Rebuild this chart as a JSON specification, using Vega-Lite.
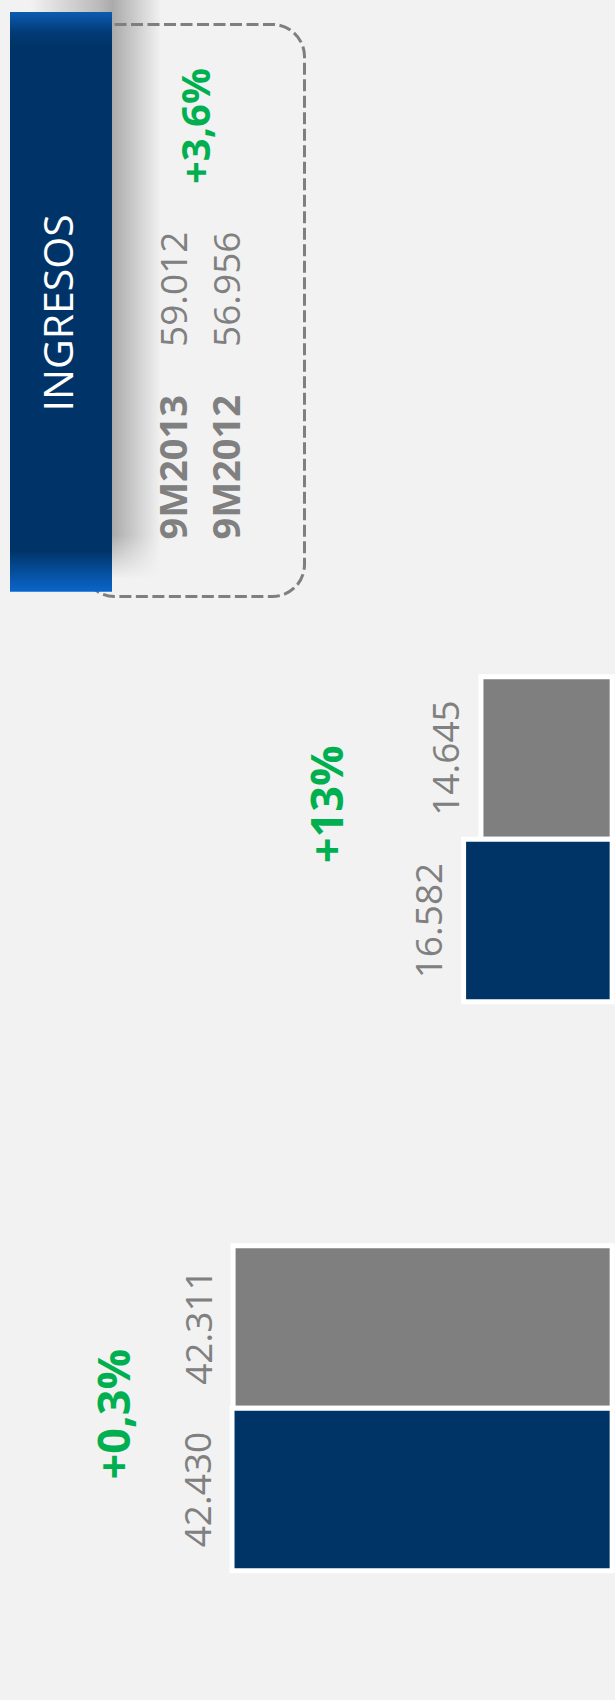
{
  "$schema": "https://vega.github.io/schema/vega-lite/v6.json",
  "width": 615,
  "height": 1700,
  "autosize": {"type": "fit", "contains": "padding"},
  "padding": 0,
  "background": "#f2f2f2",
  "config": {
    "view": {"stroke": null},
    "axis": {"disable": true},
    "locale": {"number": {"decimal": ",", "thousands": ".", "grouping": [3], "currency": ["", " €"]}}
  },
  "datasets": {
    "panel": [{"part": "INGRESOS"}],
    "totales": [
      {"periodo": "9M2013", "ingresos": 59012, "variacion": "+3,6%"},
      {"periodo": "9M2012", "ingresos": 56956}
    ],
    "segmentos": [
      {"segmento": "A", "periodo": "9M2012", "ingresos": 14645},
      {"segmento": "A", "periodo": "9M2013", "ingresos": 16582, "variacion": "+13%"},
      {"segmento": "B", "periodo": "9M2012", "ingresos": 42311},
      {"segmento": "B", "periodo": "9M2013", "ingresos": 42430, "variacion": "+0,3%"}
    ]
  },
  "resolve": {"scale": {"x": "independent", "y": "independent", "color": "independent"}},
  "layer": [
    {
      "data": {"name": "panel"},
      "mark": {"type": "rect", "fill": {"gradient": "linear", "x1": 0, "y1": 0, "x2": 1, "y2": 0, "stops": [
        {"offset": 0, "color": "#f2f2f2"},
        {"offset": 0.5, "color": "#bcbcbc"},
        {"offset": 0.61, "color": "#ababab"},
        {"offset": 0.75, "color": "#c6c6c6"},
        {"offset": 0.97, "color": "#f2f2f2"},
        {"offset": 1, "color": "#f2f2f2"}]}},
      "encoding": {
        "x": {"field": "part", "type": "nominal", "scale": {"type": "band", "paddingInner": 0, "paddingOuter": 0, "range": [30, 165]}},
        "y": {"field": "part", "type": "nominal", "scale": {"type": "band", "paddingInner": 0, "paddingOuter": 0, "range": [0, 580]}}
      }
    },
    {
      "data": {"name": "panel"},
      "mark": {"type": "rect", "fill": {"gradient": "linear", "x1": 0, "y1": 0, "x2": 0, "y2": 1, "stops": [
        {"offset": 0, "color": "rgba(242,242,242,0)"},
        {"offset": 0.7, "color": "rgba(242,242,242,1)"},
        {"offset": 1, "color": "rgba(242,242,242,1)"}]}},
      "encoding": {
        "x": {"field": "part", "type": "nominal", "scale": {"type": "band", "paddingInner": 0, "paddingOuter": 0, "range": [112, 170]}},
        "y": {"field": "part", "type": "nominal", "scale": {"type": "band", "paddingInner": 0, "paddingOuter": 0, "range": [535, 598]}}
      }
    },
    {
      "data": {"name": "panel"},
      "mark": {"type": "rect", "fill": "transparent", "stroke": "#7f7f7f", "strokeWidth": 3, "strokeDash": [12, 4.5], "cornerRadius": 32},
      "encoding": {
        "x": {"field": "part", "type": "nominal", "scale": {"type": "band", "paddingInner": 0, "paddingOuter": 0, "range": [82.5, 304.5]}},
        "y": {"field": "part", "type": "nominal", "scale": {"type": "band", "paddingInner": 0, "paddingOuter": 0, "range": [24.5, 596.5]}}
      }
    },
    {
      "data": {"name": "panel"},
      "encoding": {
        "x": {"field": "part", "type": "nominal", "scale": {"type": "band", "paddingInner": 0, "paddingOuter": 0, "range": [10, 112]}},
        "y": {"field": "part", "type": "nominal", "scale": {"type": "band", "paddingInner": 0, "paddingOuter": 0, "range": [12, 591.7]}}
      },
      "layer": [
        {
          "mark": {"type": "rect", "fill": {"gradient": "linear", "x1": 0, "y1": 0, "x2": 0, "y2": 1, "stops": [
            {"offset": 0, "color": "#0b5cb2"},
            {"offset": 0.036, "color": "#023a74"},
            {"offset": 0.06, "color": "#003468"},
            {"offset": 0.93, "color": "#003468"},
            {"offset": 0.955, "color": "#04478c"},
            {"offset": 1, "color": "#0a66cc"}]}}
        },
        {
          "mark": {"type": "text", "angle": 270, "align": "center", "baseline": "middle", "dx": -11, "font": "Open Sans", "fontSize": 41, "color": "#ffffff"},
          "encoding": {"text": {"field": "part"}}
        }
      ]
    },
    {
      "data": {"name": "totales"},
      "layer": [
        {
          "mark": {"type": "text", "angle": 270, "align": "right", "baseline": "alphabetic", "font": "Open Sans", "fontWeight": "bold", "fontSize": 38, "color": "#808080"},
          "encoding": {
            "x": {"field": "periodo", "type": "nominal", "scale": {"type": "point", "domain": ["9M2013", "9M2012"], "padding": 0, "range": [187, 240]}},
            "y": {"datum": "periodo", "type": "nominal", "scale": {"type": "point", "domain": ["variacion", "ingresos", "periodo"], "padding": 0, "range": [68, 395]}},
            "text": {"field": "periodo"}
          }
        },
        {
          "mark": {"type": "text", "angle": 270, "align": "right", "baseline": "alphabetic", "font": "Open Sans", "fontSize": 37, "color": "#808080"},
          "encoding": {
            "x": {"field": "periodo", "type": "nominal"},
            "y": {"datum": "ingresos", "type": "nominal"},
            "text": {"field": "ingresos", "type": "quantitative", "format": ",d"}
          }
        },
        {
          "transform": [{"filter": "isValid(datum.variacion)"}],
          "mark": {"type": "text", "angle": 270, "align": "right", "baseline": "alphabetic", "dy": 23, "font": "Open Sans", "fontWeight": "bold", "fontSize": 40, "color": "#00b050"},
          "encoding": {
            "x": {"field": "periodo", "type": "nominal"},
            "y": {"datum": "variacion", "type": "nominal"},
            "text": {"field": "variacion"}
          }
        }
      ]
    },
    {
      "data": {"name": "segmentos"},
      "transform": [{"filter": "datum.segmento === 'A'"}],
      "layer": [
        {
          "mark": {"type": "bar", "stroke": "#ffffff", "strokeWidth": 5},
          "encoding": {
            "x": {"field": "ingresos", "type": "quantitative", "scale": {"domain": [463.5, 68329], "reverse": true, "zero": false, "nice": false}},
            "x2": {"datum": 0},
            "y": {"field": "periodo", "type": "nominal", "scale": {"type": "band", "domain": ["9M2012", "9M2013"], "paddingInner": 0, "paddingOuter": 0, "range": [676.8, 1001.8]}},
            "color": {"field": "periodo", "type": "nominal", "scale": {"domain": ["9M2012", "9M2013"], "range": ["#7f7f7f", "#003366"]}, "legend": null}
          }
        },
        {
          "mark": {"type": "text", "angle": 270, "align": "center", "baseline": "alphabetic", "dy": -22, "font": "Open Sans", "fontSize": 37, "color": "#808080"},
          "encoding": {
            "x": {"field": "ingresos", "type": "quantitative"},
            "y": {"field": "periodo", "type": "nominal"},
            "text": {"field": "ingresos", "type": "quantitative", "format": ",d"}
          }
        },
        {
          "transform": [{"filter": "isValid(datum.variacion)"}],
          "mark": {"type": "text", "angle": 270, "align": "center", "baseline": "alphabetic", "dx": 35, "dy": -121, "font": "Open Sans", "fontWeight": "bold", "fontSize": 45, "color": "#00b050"},
          "encoding": {
            "x": {"field": "ingresos", "type": "quantitative"},
            "y": {"field": "periodo", "type": "nominal", "bandPosition": 0},
            "text": {"field": "variacion"}
          }
        }
      ]
    },
    {
      "data": {"name": "segmentos"},
      "transform": [{"filter": "datum.segmento === 'B'"}],
      "layer": [
        {
          "mark": {"type": "bar", "stroke": "#ffffff", "strokeWidth": 5},
          "encoding": {
            "x": {"field": "ingresos", "type": "quantitative", "scale": {"domain": [463.5, 68329], "reverse": true, "zero": false, "nice": false}},
            "x2": {"datum": 0},
            "y": {"field": "periodo", "type": "nominal", "scale": {"type": "band", "domain": ["9M2012", "9M2013"], "paddingInner": 0, "paddingOuter": 0, "range": [1245.8, 1570.8]}},
            "color": {"field": "periodo", "type": "nominal", "scale": {"domain": ["9M2012", "9M2013"], "range": ["#7f7f7f", "#003366"]}, "legend": null}
          }
        },
        {
          "mark": {"type": "text", "angle": 270, "align": "center", "baseline": "alphabetic", "dy": -21, "font": "Open Sans", "fontSize": 37, "color": "#808080"},
          "encoding": {
            "x": {"field": "ingresos", "type": "quantitative"},
            "y": {"field": "periodo", "type": "nominal"},
            "text": {"field": "ingresos", "type": "quantitative", "format": ",d"}
          }
        },
        {
          "transform": [{"filter": "isValid(datum.variacion)"}],
          "mark": {"type": "text", "angle": 270, "align": "center", "baseline": "alphabetic", "dx": -6, "dy": -102, "font": "Open Sans", "fontWeight": "bold", "fontSize": 45, "color": "#00b050"},
          "encoding": {
            "x": {"field": "ingresos", "type": "quantitative"},
            "y": {"field": "periodo", "type": "nominal", "bandPosition": 0},
            "text": {"field": "variacion"}
          }
        }
      ]
    }
  ]
}
